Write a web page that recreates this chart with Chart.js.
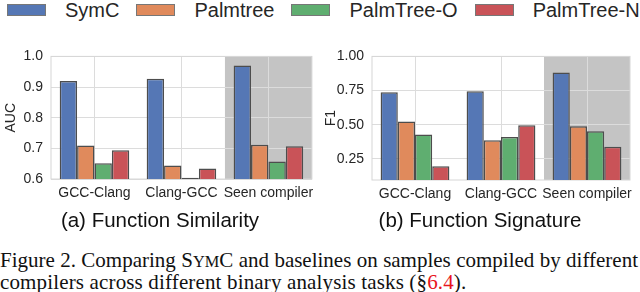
<!DOCTYPE html>
<html>
<head>
<meta charset="utf-8">
<script src="https://cdn.jsdelivr.net/npm/chart.js@4.4.1/dist/chart.umd.min.js"></script>
<style>
  body { margin:0; width:640px; height:292px; overflow:hidden; background:#fff; position:relative;
         font-family:"Liberation Sans", Arial, sans-serif; color:#262626; }
  #legend { position:absolute; left:7px; top:0; height:20px; display:flex; align-items:center; font-size:20px; white-space:nowrap; }
  .item { display:flex; align-items:center; margin-right:17px; }
  .box { width:37px; height:10px; border:1px solid #777; margin-right:19px; }
  .panel { position:absolute; top:40px; }
  .sub { position:absolute; top:208px; width:320px; text-align:center; font-size:20.5px; line-height:24px; color:#111; }
  #caption { position:absolute; left:0; top:250px; width:638px; font-family:"Liberation Serif", "Times New Roman", serif;
             font-size:21px; line-height:21px; color:#111; white-space:nowrap; }
  #caption .l1 { text-align:justify; text-align-last:justify; }
  #caption .l2 { letter-spacing:0.15px; }
  #caption .sc { font-size:0.78em; }
  #caption .ref { color:#e8141c; }
</style>
</head>
<body>
<div id="legend"></div>
<canvas id="auc" class="panel" width="320" height="170" style="left:0"></canvas>
<canvas id="f1" class="panel" width="320" height="170" style="left:320px"></canvas>
<div class="sub" style="left:0">(a) Function Similarity</div>
<div class="sub" style="left:320px">(b) Function Signature</div>
<div id="caption">
  <div class="l1">Figure 2. Comparing S<span class="sc">YM</span>C and baselines on samples compiled by different</div>
  <div class="l2">compilers across different binary analysis tasks (§<span class="ref">6.4</span>).</div>
</div>
<script>
const categories = ['GCC-Clang', 'Clang-GCC', 'Seen compiler'];
const seriesNames = ['SymC', 'Palmtree', 'PalmTree-O', 'PalmTree-N'];
const seriesColors = ['#5577b5', '#e08a5c', '#5fae70', '#c95358'];

// (a) function similarity, AUC
const aucSymC = [0.92, 0.927, 0.97];
const aucPalmtree = [0.709, 0.644, 0.712];
const aucPalmTreeO = [0.651, 0.604, 0.657];
const aucPalmTreeN = [0.694, 0.634, 0.707];
const aucTicks = [0.6, 0.7, 0.8, 0.9, 1.0];

// (b) function signature, F1
const f1SymC = [0.737, 0.744, 0.882];
const f1Palmtree = [0.524, 0.386, 0.488];
const f1PalmTreeO = [0.429, 0.41, 0.452];
const f1PalmTreeN = [0.195, 0.495, 0.338];
const f1Ticks = [0.25, 0.5, 0.75, 1.0];

Chart.defaults.font.family = "'Liberation Sans', Arial, sans-serif";
Chart.defaults.color = '#262626';

// legend shared by both panels
const legend = document.getElementById('legend');
seriesNames.forEach((name, i) => {
    const item = document.createElement('div');
    item.className = 'item';
    item.innerHTML = '<span class="box" style="background:' + seriesColors[i] + '"></span>' + name;
    legend.appendChild(item);
});

// gray band behind the "Seen compiler" group + light frame
const shade = {
    id: 'shade',
    beforeDraw(chart) {
        const { ctx, chartArea: a, scales: { x } } = chart;
        const from = x.getPixelForValue(1.5);
        ctx.save();
        ctx.fillStyle = '#c4c4c4';
        ctx.fillRect(from, a.top, a.right - from, a.bottom - a.top);
        ctx.restore();
    },
    beforeDatasetsDraw(chart) {
        const { ctx, chartArea: a } = chart;
        ctx.save();
        ctx.strokeStyle = '#d6d6d6';
        ctx.lineWidth = 1;
        ctx.strokeRect(a.left, a.top, a.right - a.left, a.bottom - a.top);
        ctx.restore();
    }
};

function makeChart(id, values, yMin, ticks, digits, title, pad, xHeight) {
    const ctx = document.getElementById(id).getContext('2d');
    return new Chart(ctx, {
        type: 'bar',
        data: {
            labels: categories,
            datasets: values.map((v, i) => ({
                label: seriesNames[i],
                data: v,
                backgroundColor: seriesColors[i],
                borderColor: '#4d4d4d',
                borderWidth: 1.5,
                borderSkipped: false,
                categoryPercentage: 0.8,
                barPercentage: 1.0
            }))
        },
        options: {
            responsive: false,
            animation: false,
            layout: { padding: pad },
            plugins: { legend: { display: false }, tooltip: { enabled: false } },
            scales: {
                x: {
                    offset: true,
                    grid: { offset: false, color: '#dcdcdc', drawTicks: false },
                    border: { display: false },
                    ticks: { font: { size: 14 }, padding: 6, maxRotation: 0, autoSkip: false },
                    afterFit: s => { s.height = xHeight; }
                },
                y: {
                    min: yMin,
                    max: 1.0,
                    afterBuildTicks: s => { s.ticks = ticks.map(v => ({ value: v })); },
                    grid: { color: '#dcdcdc', drawTicks: false },
                    border: { display: false },
                    ticks: { font: { size: 14 }, padding: 8, callback: v => v.toFixed(digits) },
                    title: { display: true, text: title, font: { size: 14 }, padding: { top: 3, bottom: 0 } },
                    afterFit: s => { s.width = pad.yWidth; }
                }
            }
        },
        plugins: [shade]
    });
}

makeChart('auc', [aucSymC, aucPalmtree, aucPalmTreeO, aucPalmTreeN], 0.6, aucTicks, 1, 'AUC',
    { top: 10, right: 5, left: 0, bottom: 0, yWidth: 51 }, 31);
makeChart('f1', [f1SymC, f1Palmtree, f1PalmTreeO, f1PalmTreeN], 0.095, f1Ticks, 2, 'F1',
    { top: 13, right: 10, left: 0, bottom: 0, yWidth: 52 }, 30);
</script>
</body>
</html>
